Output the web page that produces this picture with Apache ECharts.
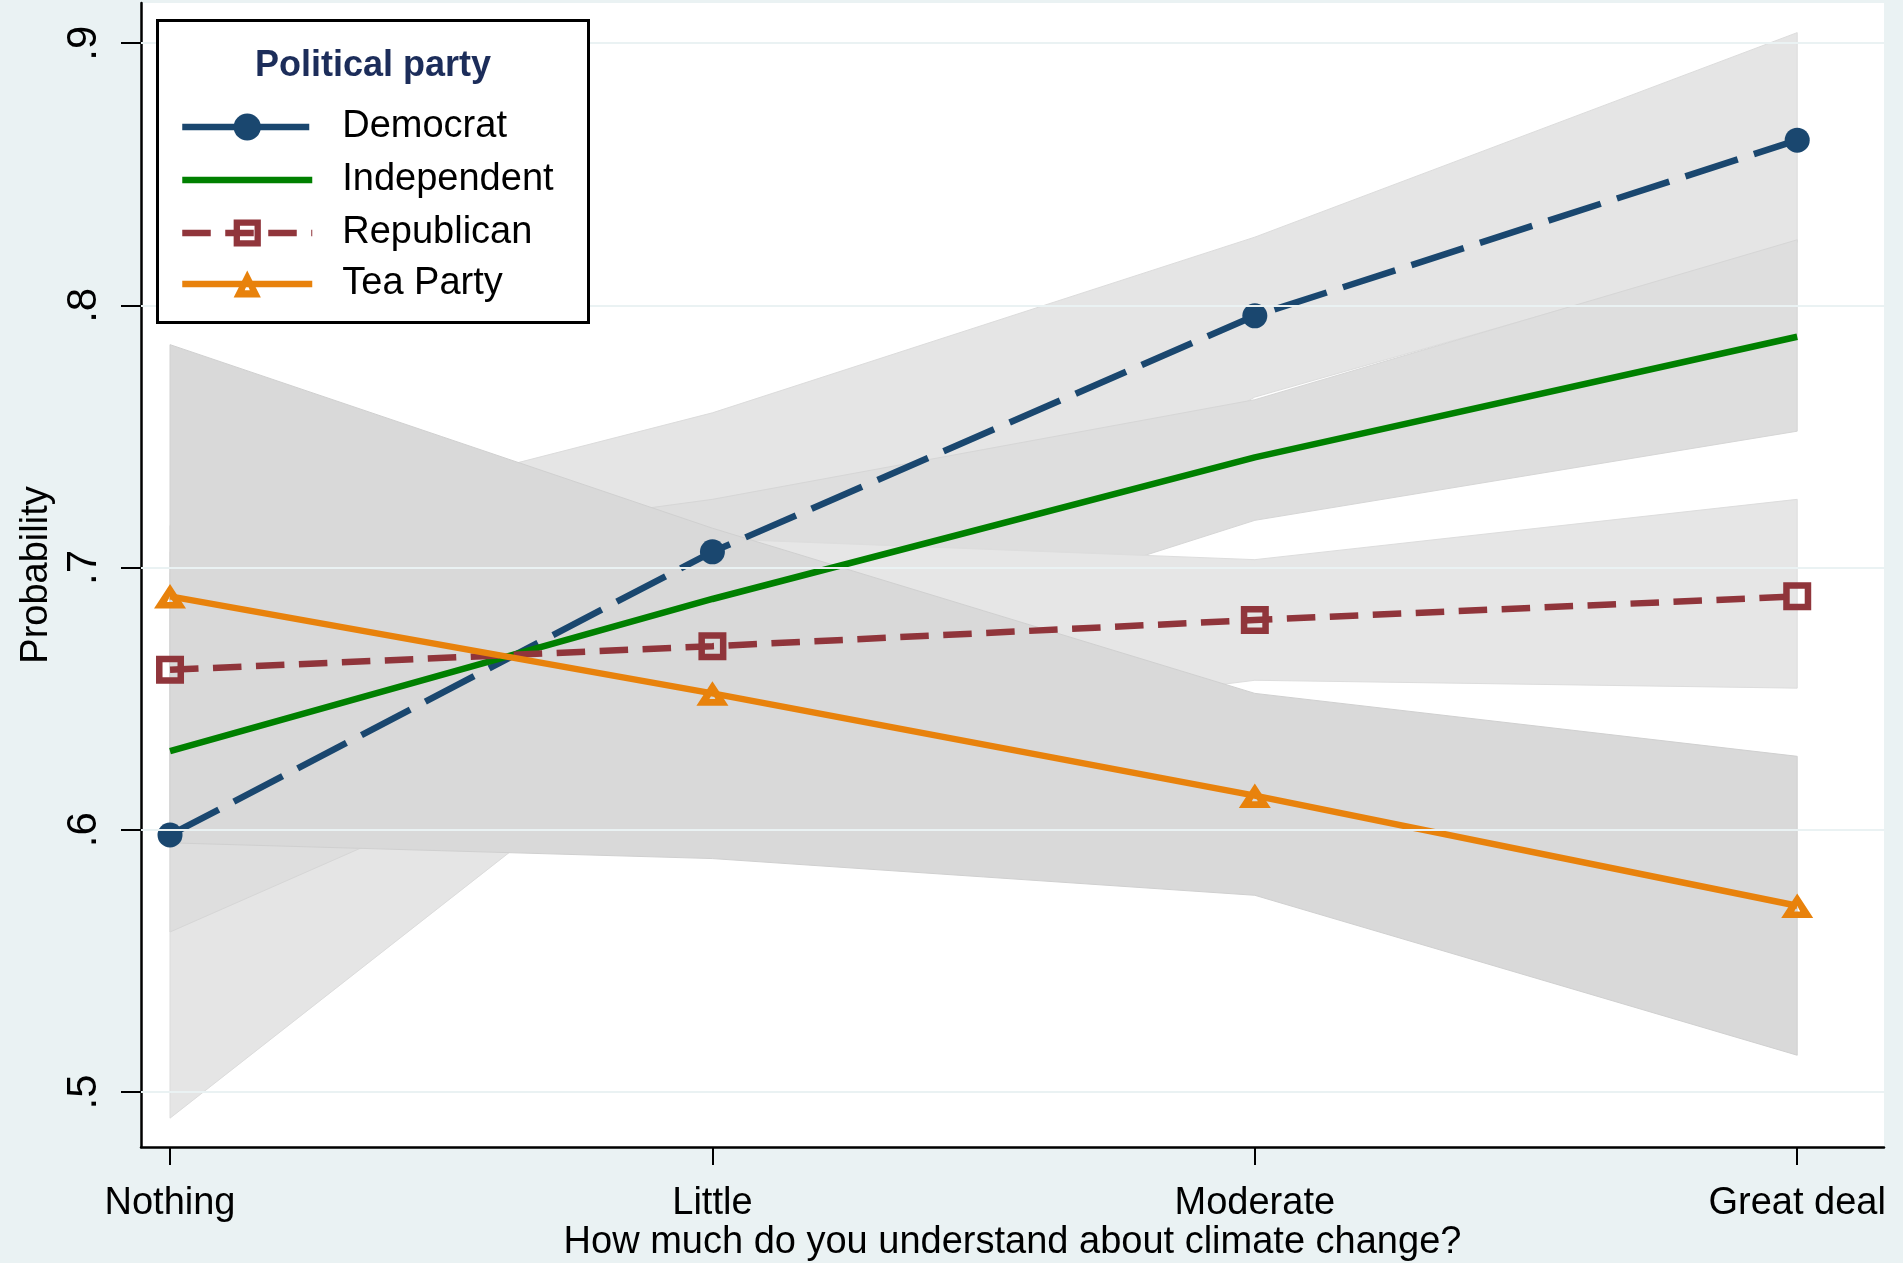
<!DOCTYPE html>
<html>
<head>
<meta charset="utf-8">
<script src="https://cdn.jsdelivr.net/npm/echarts@6/dist/echarts.min.js"></script>
<style>
  html, body { margin: 0; padding: 0; background: #eaf2f3; }
  #chart { width: 1903px; height: 1263px; }
</style>
</head>
<body>
<div id="chart"></div>
<script>
// Predicted probability by self-rated understanding of climate change, per party
const categories = ['Nothing', 'Little', 'Moderate', 'Great deal'];
const categoryPos = [0, 1, 2, 3];

const democrat    = [0.598, 0.706, 0.796, 0.863];
const independent = [0.630, 0.688, 0.742, 0.788];
const republican  = [0.661, 0.670, 0.680, 0.689];
const teaParty    = [0.689, 0.652, 0.613, 0.571];

// 95% confidence bounds
const democratLo    = [0.490, 0.652, 0.765, 0.824];
const democratHi    = [0.706, 0.759, 0.826, 0.904];
const independentLo = [0.561, 0.652, 0.718, 0.752];
const independentHi = [0.698, 0.726, 0.764, 0.825];
const republicanLo  = [0.606, 0.631, 0.657, 0.654];
const republicanHi  = [0.716, 0.711, 0.703, 0.726];
const teaPartyLo    = [0.595, 0.589, 0.575, 0.514];
const teaPartyHi    = [0.785, 0.715, 0.652, 0.628];

const yTicks = [0.5, 0.6, 0.7, 0.8, 0.9];
const yTickLabels = ['.5', '.6', '.7', '.8', '.9'];

const FONT = '"Liberation Sans", Arial, sans-serif';
const NAVY = '#1a476f';
const GREEN = '#008000';
const MAROON = '#90353b';
const ORANGE = '#e8820c';
const LINE_W = 6.5;

const SQUARE_HOLLOW = 'path://M0,0H28V28H0Z M6.5,6.5V21.5H21.5V6.5Z';
const TRIANGLE_HOLLOW = 'path://M16,0L32,28L0,28Z M16,14L13,20.5L19,20.5Z';

function yLabel(v) {
  for (let i = 0; i < yTicks.length; i++) {
    if (Math.abs(yTicks[i] - v) < 1e-9) return yTickLabels[i];
  }
  return '';
}

// Shaded confidence band drawn as one polygon through the axis scales
function bandSeries(name, lo, hi, fill, edge) {
  return {
    type: 'custom',
    name: name,
    z: 2,
    silent: true,
    clip: false,
    data: categoryPos.map((x, i) => [x, lo[i], hi[i]]),
    encode: { x: 0, y: [1, 2] },
    renderItem: function (params, api) {
      if (params.dataIndex !== 0) return null;
      const pts = [];
      for (let i = 0; i < categoryPos.length; i++) pts.push(api.coord([categoryPos[i], hi[i]]));
      for (let i = categoryPos.length - 1; i >= 0; i--) pts.push(api.coord([categoryPos[i], lo[i]]));
      return {
        type: 'polygon',
        shape: { points: pts },
        style: { fill: fill, stroke: edge, lineWidth: 1 }
      };
    }
  };
}

function lineSeries(name, values, color, dash, symbol, symbolSize) {
  return {
    type: 'line',
    name: name,
    z: 3,
    silent: true,
    clip: false,
    data: categoryPos.map((x, i) => [x, values[i]]),
    symbol: symbol,
    symbolSize: symbolSize,
    symbolKeepAspect: true,
    showSymbol: symbol !== 'none',
    lineStyle: { color: color, width: LINE_W, type: dash, cap: 'butt' },
    itemStyle: { color: color, borderWidth: 0 }
  };
}

function legendFor(name, centerY, extra) {
  const base = {
    data: [name],
    orient: 'vertical',
    left: 179,
    top: centerY - 19,
    padding: 0,
    itemWidth: 130,
    itemHeight: 34,
    selectedMode: false,
    z: 20,
    lineStyle: { width: LINE_W },
    textStyle: {
      fontFamily: FONT, fontSize: 38, color: '#000',
      lineHeight: 34, padding: [12, 0, 0, 25]
    }
  };
  return Object.assign(base, extra || {});
}

const chart = echarts.init(document.getElementById('chart'), null, { renderer: 'canvas' });

chart.setOption({
  animation: false,
  backgroundColor: '#eaf2f3',
  grid: {
    show: true, backgroundColor: '#ffffff', borderWidth: 0,
    left: 141, right: 19, top: 3, bottom: 116,
    containLabel: false,
    outerBoundsMode: 'none'
  },
  xAxis: {
    type: 'value',
    min: -0.0535,
    max: 3.160,
    name: 'How much do you understand about climate change?',
    nameLocation: 'middle',
    nameGap: 77,
    nameMoveOverlap: false,
    nameTextStyle: { fontFamily: FONT, fontSize: 38, color: '#000' },
    axisLine: { show: true, onZero: false, lineStyle: { color: '#000', width: 2.5 } },
    axisTick: { show: true, length: 18, customValues: categoryPos, lineStyle: { color: '#000', width: 2 } },
    axisLabel: {
      customValues: categoryPos, margin: 38,
      fontFamily: FONT, fontSize: 38, color: '#000',
      formatter: v => categories[Math.round(v)]
    },
    splitLine: { show: false }
  },
  yAxis: {
    type: 'value',
    min: 0.479,
    max: 0.9153,
    name: 'Probability',
    nameLocation: 'middle',
    nameRotate: 90,
    nameGap: 85,
    nameMoveOverlap: false,
    nameTextStyle: { fontFamily: FONT, fontSize: 38, color: '#000' },
    axisLine: { show: true, onZero: false, lineStyle: { color: '#000', width: 2.5 } },
    axisTick: { show: true, length: 20, customValues: yTicks, lineStyle: { color: '#000', width: 2 } },
    axisLabel: {
      customValues: yTicks, rotate: 90, margin: 36,
      fontFamily: FONT, fontSize: 42, color: '#000',
      formatter: yLabel
    },
    splitLine: { show: false }
  },
  legend: [
    legendFor('Democrat', 123),
    legendFor('Independent', 176, { itemStyle: { color: 'rgba(0,0,0,0)', borderWidth: 0 } }),
    legendFor('Republican', 229),
    legendFor('Tea Party', 280)
  ],
  graphic: [
    {
      type: 'rect', z: 10, silent: true,
      shape: { x: 157.5, y: 20.5, width: 431, height: 302 },
      style: { fill: '#ffffff', stroke: '#000', lineWidth: 3 }
    },
    {
      type: 'text', z: 20, silent: true, x: 373, y: 66,
      style: {
        text: 'Political party', fill: '#1c2d5a',
        font: 'bold 36px ' + FONT, textAlign: 'center', textVerticalAlign: 'middle'
      }
    }
  ],
  series: [
    {
      type: 'line', name: 'gridlines', data: [], z: 1, silent: true,
      markLine: {
        silent: true, symbol: 'none', animation: false,
        label: { show: false },
        lineStyle: { color: '#eaf2f3', width: 2, type: 'solid' },
        data: yTicks.map(v => ({ yAxis: v }))
      }
    },
    bandSeries('Democrat CI', democratLo, democratHi, '#e5e5e5', '#dcdcdc'),
    bandSeries('Independent CI', independentLo, independentHi, '#dedede', '#d6d6d6'),
    bandSeries('Republican CI', republicanLo, republicanHi, '#e6e6e6', '#dddddd'),
    bandSeries('Tea Party CI', teaPartyLo, teaPartyHi, '#d9d9d9', '#d0d0d0'),
    lineSeries('Democrat', democrat, NAVY, [55, 17], 'circle', 25),
    lineSeries('Independent', independent, GREEN, 'solid', 'none', 0),
    lineSeries('Republican', republican, MAROON, [28.5, 14.5], SQUARE_HOLLOW, 28),
    lineSeries('Tea Party', teaParty, ORANGE, 'solid', TRIANGLE_HOLLOW, [32, 28])
  ]
});
</script>
</body>
</html>
